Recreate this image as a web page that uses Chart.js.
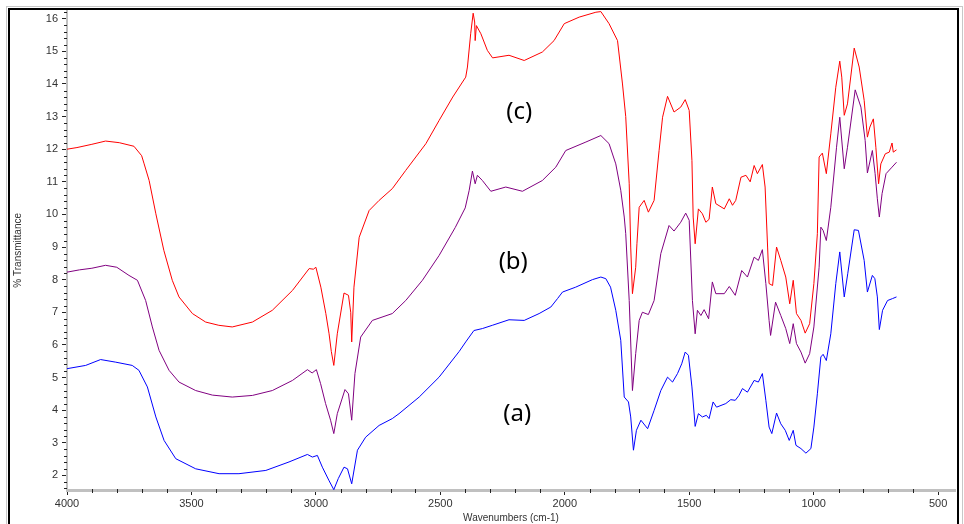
<!DOCTYPE html>
<html>
<head>
<meta charset="utf-8">
<script src="https://cdn.jsdelivr.net/npm/chart.js@4.4.1/dist/chart.umd.min.js"></script>
<style>
  body { margin: 0; background: #fff; }
  #wrap { width: 964px; height: 524px; }
</style>
</head>
<body>
<div id="wrap"><canvas id="myChart" width="964" height="524"></canvas></div>
<script>
// IRスペクトル (a) (b) (c)
// 波数 [cm-1] と 透過率 [%]

// (a) 青
const waveA = [4000, 3925, 3865, 3804, 3738, 3711, 3677, 3643, 3610, 3563, 3483, 3389, 3309, 3201, 3108, 3034, 3014, 2994, 2974, 2948, 2928, 2910, 2887, 2873, 2856, 2833, 2800, 2746, 2693, 2666, 2585, 2505, 2424, 2398, 2365, 2331, 2291, 2224, 2163, 2103, 2056, 2029, 2009, 1956, 1889, 1855, 1835, 1816, 1795, 1775, 1761, 1744, 1735, 1724, 1712, 1694, 1667, 1641, 1614, 1587, 1567, 1547, 1530, 1516, 1503, 1489, 1476, 1463, 1447, 1431, 1420, 1404, 1390, 1353, 1333, 1315, 1300, 1286, 1266, 1239, 1222, 1206, 1192, 1179, 1168, 1149, 1132, 1114, 1098, 1082, 1071, 1051, 1031, 1011, 999, 985, 971, 962, 949, 931, 911, 895, 877, 863, 837, 820, 797, 784, 764, 754, 744, 736, 723, 703, 683, 667];
const transA = [5.27, 5.37, 5.55, 5.47, 5.37, 5.22, 4.71, 3.79, 3.07, 2.51, 2.2, 2.05, 2.05, 2.15, 2.41, 2.64, 2.56, 2.61, 2.25, 1.85, 1.56, 1.9, 2.25, 2.2, 1.74, 2.77, 3.17, 3.53, 3.74, 3.89, 4.4, 5.01, 5.8, 6.09, 6.44, 6.5, 6.6, 6.77, 6.75, 6.96, 7.16, 7.42, 7.62, 7.77, 8.0, 8.08, 8.03, 7.77, 7.06, 6.14, 4.4, 4.25, 3.79, 2.77, 3.38, 3.69, 3.43, 3.99, 4.6, 5.01, 4.86, 5.12, 5.42, 5.78, 5.68, 4.71, 3.5, 3.89, 3.79, 3.84, 3.74, 4.25, 4.09, 4.2, 4.32, 4.3, 4.45, 4.66, 4.55, 4.91, 4.86, 5.12, 4.3, 3.48, 3.28, 3.91, 3.58, 3.38, 3.07, 3.38, 2.92, 2.82, 2.68, 2.82, 3.48, 4.5, 5.63, 5.71, 5.52, 6.34, 7.88, 8.85, 7.47, 8.18, 9.53, 9.51, 8.59, 7.62, 8.13, 8.03, 7.47, 6.47, 7.06, 7.36, 7.42, 7.47];

// (b) 紫
const waveB = [4000, 3950, 3900, 3845, 3800, 3751, 3717, 3684, 3657, 3630, 3590, 3550, 3483, 3416, 3336, 3255, 3175, 3094, 3034, 3015, 2998, 2981, 2961, 2941, 2928, 2914, 2883, 2869, 2856, 2843, 2820, 2773, 2693, 2639, 2572, 2505, 2440, 2400, 2384, 2371, 2360, 2351, 2331, 2297, 2237, 2170, 2090, 2036, 1996, 1915, 1855, 1822, 1795, 1775, 1761, 1755, 1741, 1728, 1715, 1701, 1688, 1664, 1641, 1614, 1581, 1561, 1534, 1514, 1500, 1487, 1476, 1467, 1453, 1440, 1422, 1407, 1393, 1359, 1339, 1315, 1289, 1266, 1239, 1222, 1206, 1192, 1179, 1173, 1153, 1132, 1112, 1096, 1082, 1069, 1051, 1034, 1016, 999, 978, 971, 962, 949, 931, 908, 895, 877, 864, 833, 810, 793, 784, 764, 753, 744, 736, 725, 709, 685, 667];
const transB = [8.23, 8.3, 8.35, 8.44, 8.38, 8.13, 7.98, 7.36, 6.55, 5.83, 5.22, 4.86, 4.6, 4.46, 4.4, 4.45, 4.6, 4.91, 5.24, 5.14, 5.24, 4.81, 4.2, 3.69, 3.28, 3.89, 4.63, 4.5, 3.69, 5.12, 6.24, 6.75, 6.96, 7.36, 7.98, 8.74, 9.6, 10.2, 10.74, 11.33, 10.94, 11.2, 11.04, 10.71, 10.84, 10.71, 11.04, 11.45, 11.96, 12.22, 12.42, 12.17, 11.55, 10.74, 9.92, 9.41, 7.36, 4.6, 5.73, 6.75, 7.0, 6.93, 7.36, 8.8, 9.66, 9.49, 9.76, 10.04, 9.82, 7.36, 6.34, 7.06, 6.9, 7.08, 6.8, 7.93, 7.57, 7.57, 7.79, 7.52, 8.28, 8.08, 8.69, 8.59, 8.92, 7.88, 6.75, 6.29, 7.31, 6.9, 6.5, 6.04, 6.65, 6.04, 5.78, 5.44, 5.73, 6.55, 8.38, 9.61, 9.51, 9.2, 10.22, 12.06, 12.98, 11.4, 12.06, 13.82, 13.29, 12.27, 11.27, 11.96, 11.25, 10.48, 9.92, 10.64, 11.25, 11.45, 11.6];

// (c) 赤
const waveC = [4000, 3960, 3900, 3845, 3790, 3731, 3700, 3690, 3670, 3643, 3611, 3577, 3550, 3496, 3443, 3390, 3336, 3255, 3175, 3094, 3027, 3010, 3000, 2980, 2960, 2947, 2938, 2928, 2914, 2887, 2869, 2860, 2856, 2847, 2826, 2786, 2746, 2693, 2639, 2558, 2505, 2450, 2398, 2391, 2378, 2368, 2362, 2360, 2355, 2337, 2311, 2290, 2224, 2163, 2090, 2043, 2002, 1942, 1875, 1855, 1822, 1788, 1768, 1755, 1741, 1735, 1728, 1715, 1710, 1701, 1681, 1664, 1641, 1621, 1607, 1587, 1561, 1534, 1516, 1500, 1489, 1484, 1476, 1463, 1447, 1433, 1420, 1407, 1393, 1359, 1339, 1326, 1313, 1292, 1272, 1255, 1239, 1226, 1206, 1195, 1185, 1179, 1165, 1149, 1132, 1112, 1096, 1082, 1069, 1051, 1034, 1016, 999, 985, 978, 965, 949, 931, 911, 895, 887, 877, 864, 837, 817, 797, 784, 774, 760, 750, 739, 730, 712, 696, 685, 680, 667];
const transC = [12.0, 12.05, 12.15, 12.25, 12.2, 12.09, 11.8, 11.55, 11.04, 10.02, 8.9, 7.98, 7.47, 6.96, 6.7, 6.6, 6.55, 6.7, 7.06, 7.67, 8.34, 8.32, 8.38, 7.77, 6.96, 6.34, 5.8, 5.37, 6.34, 7.59, 7.52, 7.0, 6.09, 7.77, 9.3, 10.12, 10.43, 10.79, 11.35, 12.17, 12.88, 13.6, 14.21, 14.52, 15.54, 16.17, 15.9, 15.33, 15.79, 15.54, 15.03, 14.8, 14.88, 14.72, 14.98, 15.33, 15.85, 16.05, 16.2, 16.22, 15.85, 15.33, 14.0, 13.0, 10.94, 9.0, 7.57, 8.38, 9.1, 10.22, 10.43, 10.07, 10.43, 11.96, 12.98, 13.62, 13.14, 13.29, 13.52, 13.19, 11.66, 9.92, 9.1, 10.17, 10.02, 9.76, 9.85, 10.84, 10.33, 10.17, 10.48, 10.28, 10.43, 11.14, 11.2, 11.0, 11.5, 11.25, 11.53, 10.84, 9.0, 7.88, 7.82, 9.0, 8.59, 8.08, 7.26, 7.98, 6.96, 6.75, 6.36, 6.65, 7.88, 9.41, 11.76, 11.88, 11.25, 12.47, 13.9, 14.7, 14.21, 13.04, 13.39, 15.1, 14.52, 13.5, 12.37, 12.68, 12.93, 12.06, 10.94, 11.55, 11.86, 11.91, 12.19, 11.91, 11.98];

// 目盛り
const xTicks = [4000, 3500, 3000, 2500, 2000, 1500, 1000, 500];
const yTicks = [2, 3, 4, 5, 6, 7, 8, 9, 10, 11, 12, 13, 14, 15, 16];

// グラフ中のラベル
const labelText = ['(c)', '(b)', '(a)'];
const labelWave = [2183, 2207, 2191];
const labelTrans = [13.14, 8.54, 3.87];

const toPoints = (w, t) => w.map((v, i) => ({ x: v, y: t[i] }));

// 副目盛り・枠・ラベルを描く
const extras = {
    id: 'extras',
    afterDatasetsDraw(chart) {
        const { ctx, scales: { x, y } } = chart;
        ctx.save();
        ctx.font = '24px "Noto Sans", "Liberation Sans", sans-serif';
        ctx.fillStyle = '#000';
        ctx.textAlign = 'center';
        ctx.textBaseline = 'middle';
        labelText.forEach((t, i) => {
            ctx.fillText(t, x.getPixelForValue(labelWave[i]), y.getPixelForValue(labelTrans[i]));
        });
        ctx.restore();
    },
    afterDraw(chart) {
        const { ctx, chartArea, scales: { x, y } } = chart;
        ctx.save();
        ctx.strokeStyle = '#222';
        ctx.lineWidth = 1;
        ctx.beginPath();
        for (let v = 1.6; v < 16.25; v += 0.2) {
            if (Math.abs(v - Math.round(v)) < 0.01) continue;
            const py = Math.round(y.getPixelForValue(v)) + 0.5;
            ctx.moveTo(chartArea.left - 3, py);
            ctx.lineTo(chartArea.left, py);
        }
        for (let w = 500; w <= 4000; w += 100) {
            if (w % 500 === 0) continue;
            const px = Math.round(x.getPixelForValue(w)) + 0.5;
            ctx.moveTo(px, chartArea.bottom - 1);
            ctx.lineTo(px, chartArea.bottom + 3);
        }
        ctx.stroke();
        // 外枠
        ctx.strokeStyle = '#c8c8c8';
        ctx.strokeRect(6.5, 6.5, 956, 530);
        ctx.strokeStyle = '#000';
        ctx.lineWidth = 2;
        ctx.strokeRect(9, 9, 949, 530);
        ctx.restore();
    }
};

const data = {
    datasets: [{
        label: '(a)',
        data: toPoints(waveA, transA),
        borderColor: '#0000ff',
    }, {
        label: '(b)',
        data: toPoints(waveB, transB),
        borderColor: '#800080',
    }, {
        label: '(c)',
        data: toPoints(waveC, transC),
        borderColor: '#ff0000',
    }]
};

const config = {
    type: 'line',
    data: data,
    options: {
        responsive: false,
        animation: false,
        layout: { padding: { left: 0, top: 10, right: 9, bottom: 0 } },
        elements: {
            line: { borderWidth: 1, tension: 0 },
            point: { radius: 0 }
        },
        plugins: {
            legend: { display: false },
            tooltip: { enabled: false }
        },
        scales: {
            x: {
                type: 'linear',
                reverse: true,
                min: 432,
                max: 4000,
                afterFit: s => { s.height = 34; },
                afterBuildTicks: s => { s.ticks = xTicks.map(v => ({ value: v })); },
                border: { color: '#c0c0c0', width: 3 },
                grid: { drawOnChartArea: false, tickLength: 5, tickColor: '#222' },
                ticks: {
                    autoSkip: false,
                    maxRotation: 0,
                    padding: 2,
                    color: '#333',
                    callback: v => String(v),
                    font: { family: '"Liberation Sans Narrow", "Liberation Sans", sans-serif', size: 11 }
                },
                title: {
                    display: true,
                    text: 'Wavenumbers (cm-1)',
                    color: '#333',
                    padding: { top: 0, bottom: 0 },
                    font: { family: '"Liberation Sans Narrow", "Liberation Sans", sans-serif', size: 10 }
                }
            },
            y: {
                min: 1.55,
                max: 16.25,
                afterFit: s => { s.width = 67; },
                afterBuildTicks: s => { s.ticks = yTicks.map(v => ({ value: v })); },
                border: { color: '#c0c0c0', width: 2 },
                grid: { drawOnChartArea: false, tickLength: 5, tickColor: '#222' },
                ticks: {
                    padding: 4,
                    color: '#333',
                    callback: v => String(v),
                    font: { family: '"Liberation Sans", sans-serif', size: 11 }
                },
                title: {
                    display: true,
                    text: '% Transmittance',
                    color: '#333',
                    padding: { top: 12, bottom: 0 },
                    font: { family: '"Liberation Sans", sans-serif', size: 10 }
                }
            }
        }
    },
    plugins: [extras]
};

const myChart = new Chart(document.getElementById('myChart'), config);
</script>
</body>
</html>
